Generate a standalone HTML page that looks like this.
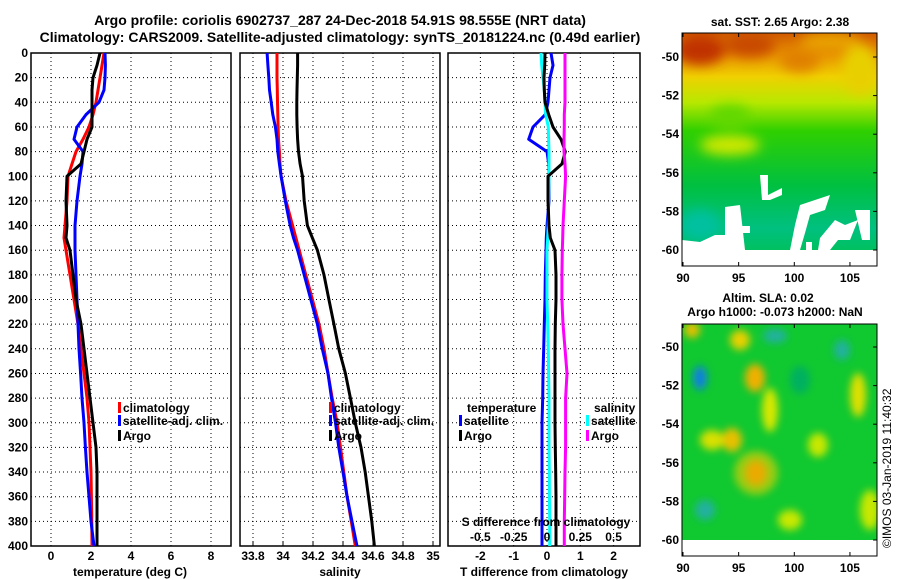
<!DOCTYPE html>
<html><head><meta charset="utf-8"><style>
body{margin:0;background:#fff;}
svg{display:block;font-family:"Liberation Sans",sans-serif;font-weight:bold;}
</style></head><body>
<svg id="chart" width="900" height="580" viewBox="0 0 900 580" xmlns="http://www.w3.org/2000/svg">
<defs>
<filter id="bl" x="-20%" y="-20%" width="140%" height="140%"><feGaussianBlur stdDeviation="6"/></filter>
<filter id="bl2" x="-20%" y="-20%" width="140%" height="140%"><feGaussianBlur stdDeviation="4"/></filter>
<clipPath id="m1c"><rect x="682" y="33" width="195" height="217"/></clipPath>
<clipPath id="m2c"><rect x="682" y="324" width="195" height="216"/></clipPath>
<linearGradient id="sst" x1="0" y1="0" x2="0" y2="1">
<stop offset="0" stop-color="#d05a00"/><stop offset="0.1" stop-color="#e89000"/><stop offset="0.2" stop-color="#f0d000"/><stop offset="0.32" stop-color="#b8e800"/><stop offset="0.45" stop-color="#30d000"/><stop offset="0.7" stop-color="#00c040"/><stop offset="0.9" stop-color="#00c080"/><stop offset="1" stop-color="#00c060"/>
</linearGradient>
</defs>
<text x="340" y="25" font-size="14" text-anchor="middle">Argo profile: coriolis 6902737_287 24-Dec-2018 54.91S 98.555E (NRT data)</text>
<text x="340" y="42" font-size="14" text-anchor="middle">Climatology: CARS2009. Satellite-adjusted climatology: synTS_20181224.nc (0.49d earlier)</text>
<g id="p1"></g>
<g id="p2"></g>
<g id="p3"></g>

<g>
<g clip-path="url(#m1c)">
<rect x="682" y="33" width="195" height="217" fill="url(#sst)"/>
<g filter="url(#bl)">
<ellipse cx="700" cy="50" rx="25" ry="15" fill="#c03000"/>
<ellipse cx="750" cy="45" rx="25" ry="12" fill="#c84800"/>
<ellipse cx="800" cy="60" rx="20" ry="12" fill="#e08000"/>
<ellipse cx="830" cy="42" rx="30" ry="10" fill="#e8a000"/>
<ellipse cx="860" cy="70" rx="18" ry="25" fill="#e8d000"/>
<ellipse cx="730" cy="145" rx="30" ry="10" fill="#d0e800"/>
<ellipse cx="730" cy="115" rx="20" ry="10" fill="#60d800"/>
<ellipse cx="700" cy="225" rx="20" ry="15" fill="#00c0a0"/>
</g>
<path d="M682 240 L700 242 L715 235 L725 235 L725 207 L740 205 L745 250 L682 250Z M736 226 L750 226 L750 233 L736 233Z M760 175 L768 175 L768 195 L782 188 L782 195 L770 200 L762 200Z M800 205 L815 200 L830 195 L825 210 L810 215 L805 233 L800 250 L790 250 L795 225Z M835 220 L845 225 L858 220 L850 240 L838 240 L830 250 L818 250 L820 238Z M855 210 L870 210 L870 240 L862 240Z M712 250 L877 250 L877 252 L712 252Z M806 242 L812 242 L812 250 L806 250Z" fill="#fff"/>
</g>
<rect x="682" y="250" width="195" height="16" fill="#fff"/>
<rect x="682" y="33" width="195" height="233" fill="none" stroke="#000"/>
</g>

<g>
<g clip-path="url(#m2c)">
<rect x="682" y="324" width="195" height="216" fill="#10c830"/>
<g filter="url(#bl2)">
<ellipse cx="700" cy="378" rx="7" ry="12" fill="#1080e0"/>
<ellipse cx="756" cy="473" rx="11" ry="13" fill="#e07000"/>
<ellipse cx="756" cy="473" rx="22" ry="22" fill="#f0d000" opacity="0.6"/>
<ellipse cx="755" cy="378" rx="10" ry="14" fill="#f0b000"/>
<ellipse cx="770" cy="410" rx="8" ry="22" fill="#d8e800"/>
<ellipse cx="740" cy="340" rx="10" ry="10" fill="#e8d000"/>
<ellipse cx="692" cy="330" rx="8" ry="8" fill="#e8c000"/>
<ellipse cx="732" cy="440" rx="10" ry="12" fill="#e8c000"/>
<ellipse cx="712" cy="440" rx="12" ry="10" fill="#d8e000"/>
<ellipse cx="858" cy="395" rx="8" ry="22" fill="#e0e000"/>
<ellipse cx="775" cy="336" rx="12" ry="7" fill="#20b0a0"/>
<ellipse cx="842" cy="350" rx="8" ry="10" fill="#20b0a0"/>
<ellipse cx="705" cy="510" rx="10" ry="10" fill="#20b0a0"/>
<ellipse cx="790" cy="520" rx="12" ry="10" fill="#c8e800"/>
<ellipse cx="818" cy="445" rx="10" ry="12" fill="#c8e800"/>
<ellipse cx="800" cy="380" rx="10" ry="14" fill="#00b060"/>
<ellipse cx="870" cy="510" rx="10" ry="20" fill="#c8e800"/>
</g>
</g>
<rect x="682" y="540" width="195" height="16" fill="#fff"/>
<rect x="682" y="324" width="195" height="232" fill="none" stroke="#000"/>
</g>
<text x="780" y="26" font-size="12" text-anchor="middle">sat. SST: 2.65 Argo: 2.38</text>
<text x="768" y="302" font-size="12" text-anchor="middle">Altim. SLA: 0.02</text>
<text x="775" y="316" font-size="12" text-anchor="middle">Argo h1000: -0.073 h2000: NaN</text>
<text font-size="12" font-weight="normal" transform="translate(891,548) rotate(-90)">©IMOS 03-Jan-2019 11:40:32</text>
<g id="maxes"></g>
</svg>
<script>
// ---------- data ----------
const depths = [0,10,20,30,40,50,60,70,80,90,100,120,140,150,160,180,200,220,240,260,280,300,320,340,360,380,400];
const tClim = [2.65,2.55,2.45,2.35,2.25,2.1,1.9,1.6,1.25,1.05,0.85,0.8,0.7,0.65,0.75,0.95,1.15,1.35,1.5,1.65,1.8,1.9,1.95,2.0,2.02,2.04,2.05];
const tSat  = [2.7,2.72,2.7,2.65,2.4,1.75,1.3,1.15,1.6,1.55,1.45,1.3,1.2,1.2,1.2,1.25,1.3,1.35,1.4,1.48,1.55,1.65,1.72,1.8,1.9,2.0,2.15];
const tArgo = [2.45,2.3,2.1,2.05,2.05,2.05,2.05,1.8,1.65,1.5,0.8,0.75,0.8,0.75,0.95,1.1,1.25,1.5,1.65,1.8,1.95,2.1,2.25,2.3,2.3,2.3,2.3];
const sClim = [33.96,33.96,33.96,33.962,33.963,33.965,33.967,33.97,33.976,33.98,33.987,34.02,34.064,34.086,34.108,34.152,34.196,34.24,34.273,34.3,34.328,34.361,34.383,34.405,34.427,34.455,34.482];
const sSat  = [33.894,33.899,33.905,33.91,33.921,33.932,33.949,33.96,33.965,33.976,33.987,34.015,34.048,34.07,34.097,34.141,34.185,34.229,34.262,34.3,34.323,34.35,34.372,34.4,34.427,34.46,34.493];
const sArgo = [34.097,34.097,34.095,34.093,34.092,34.092,34.094,34.097,34.103,34.114,34.13,34.141,34.163,34.196,34.229,34.273,34.306,34.339,34.372,34.416,34.449,34.482,34.52,34.548,34.57,34.592,34.609];
const dTsat = [0.12,0.18,0.09,0.06,0.03,-0.05,-0.42,-0.55,0.0,0.05,0.06,0.06,0.0,-0.02,-0.03,-0.05,-0.06,-0.08,-0.1,-0.12,-0.13,-0.15,-0.15,-0.15,-0.15,-0.15,-0.15];
const dSsat = [-0.045,-0.04,-0.03,-0.02,-0.015,-0.01,0.01,0.012,0.015,0.015,0.015,0.012,0.01,0.005,0.0,0.0,0.0,0.005,0.01,0.012,0.015,0.015,0.015,0.017,0.018,0.02,0.02];
const dTargo = [-0.06,-0.07,-0.09,-0.08,-0.06,0.05,0.18,0.42,0.55,0.45,0.03,0.03,0.06,0.1,0.24,0.27,0.27,0.25,0.24,0.24,0.24,0.24,0.25,0.26,0.27,0.27,0.27];
const dSargo = [0.135,0.135,0.135,0.135,0.135,0.13,0.13,0.128,0.128,0.135,0.14,0.13,0.12,0.118,0.115,0.112,0.112,0.12,0.135,0.15,0.14,0.14,0.14,0.135,0.133,0.13,0.13];
const tTicks = [0,2,4,6,8];
const sTicks = [33.8,34,34.2,34.4,34.6,34.8,35];
const dTTicks = [-2,-1,0,1,2];
const dSTicks = [-0.5,-0.25,0,0.25,0.5];
const depthTicks = [0,20,40,60,80,100,120,140,160,180,200,220,240,260,280,300,320,340,360,380,400];
const lonTicks = [90,95,100,105];
const latTicks = [-50,-52,-54,-56,-58,-60];

// ---------- helpers ----------
const NS="http://www.w3.org/2000/svg";
function mk(tag,attrs,parent){const e=document.createElementNS(NS,tag);for(const k in attrs)e.setAttribute(k,attrs[k]);parent.appendChild(e);return e;}
const Y0=53,Y1=546;
const yD=d=>Y0+(Y1-Y0)*d/400;
const xT=t=>51+20*t;
const xS=s=>253+150*(s-33.8);
const xDT=t=>547+33.3*t;
const xDS=s=>547+133.2*s;

function frame(g,x0,x1,xs,xticks,fx,labels){
  xticks.forEach(v=>{const x=fx(v);if(x>x0+1&&x<x1-1){const l=mk('line',{x1:x,x2:x,y1:Y0,y2:Y1,stroke:'#000','stroke-dasharray':'1 3'},g);}});
  depthTicks.forEach(d=>{if(d>0&&d<400){const l=mk('line',{x1:x0,x2:x1,y1:yD(d),y2:yD(d),stroke:'#000','stroke-dasharray':'1 3'},g);}});
  const r=mk('rect',{x:x0,y:Y0,width:x1-x0,height:Y1-Y0,fill:'none',stroke:'#000','stroke-width':1.5},g);
  
  if(labels){xticks.forEach((v,i)=>{const t=mk('text',{x:fx(v),y:560,'font-size':12,'text-anchor':'middle'},g);t.textContent=labels[i];});}
}
function line(g,xs,fx,color,name){
  const pts=depths.map((d,i)=>fx(xs[i]).toFixed(1)+','+yD(d).toFixed(1)).join(' ');
  const p=mk('polyline',{points:pts,fill:'none',stroke:color,'stroke-width':3,'stroke-linejoin':'round'},g);
  
}
function txt(g,x,y,s,name,anchor,size){const t=mk('text',{x:x,y:y,'font-size':size||12,'text-anchor':anchor||'start'},g);t.textContent=s;return t;}
function leg(g,x,y,color,label){const r=mk('rect',{x:x,y:y-10,width:3,height:11,fill:color},g);txt(g,x+5,y,label,'legend-entry');}

// ---------- panel 1 ----------
const p1=document.getElementById('p1');
frame(p1,31,231,null,tTicks,xT,tTicks.map(String));
depthTicks.forEach(d=>txt(p1,28,yD(d)+4,String(d),'y-tick-label','end'));
line(p1,tClim,xT,'#ff0000','climatology-temp-line');
line(p1,tSat,xT,'#0000ff','satellite-temp-line');
line(p1,tArgo,xT,'#000000','argo-temp-line');
txt(p1,130,576,'temperature (deg C)','x-axis-title','middle');
leg(p1,118,412,'#ff0000','climatology');
leg(p1,118,425,'#0000ff','satellite-adj. clim.');
leg(p1,118,440,'#000000','Argo');

// ---------- panel 2 ----------
const p2=document.getElementById('p2');
frame(p2,240,440,null,sTicks,xS,null);
sTicks.forEach(v=>{const x=xS(v);txt(p2,x,560,String(v),'x-tick-label','middle');
  const tk=mk('line',{x1:x,x2:x,y1:Y1,y2:Y1-4,stroke:'#000'},p2);});
line(p2,sClim,xS,'#ff0000','climatology-salinity-line');
line(p2,sSat,xS,'#0000ff','satellite-salinity-line');
line(p2,sArgo,xS,'#000000','argo-salinity-line');
txt(p2,340,576,'salinity','x-axis-title','middle');
leg(p2,329,412,'#ff0000','climatology');
leg(p2,329,425,'#0000ff','satellite-adj. clim.');
leg(p2,329,440,'#000000','Argo');

// ---------- panel 3 ----------
const p3=document.getElementById('p3');
frame(p3,448,640,null,dTTicks,xDT,dTTicks.map(String));
line(p3,dTsat,xDT,'#0000ff','temp-diff-satellite-line');
line(p3,dSsat,xDS,'#00ffff','sal-diff-satellite-line');
line(p3,dTargo,xDT,'#000000','temp-diff-argo-line');
line(p3,dSargo,xDS,'#ff00ff','sal-diff-argo-line');
txt(p3,546,526,'S difference from climatology','s-axis-title','middle');
dSTicks.forEach(v=>txt(p3,xDS(v),541,String(v),'s-tick-label','middle'));
txt(p3,544,576,'T difference from climatology','x-axis-title','middle');
txt(p3,467,412,'temperature','legend-title');
leg(p3,459,425,'#0000ff','satellite');
leg(p3,459,440,'#000000','Argo');
txt(p3,594,412,'salinity','legend-title');
leg(p3,586,425,'#00ffff','satellite');
leg(p3,586,440,'#ff00ff','Argo');

// ---------- map axes ----------
const ma=document.getElementById('maxes');
function mapAxes(top,lat50,lat60,bottom,labY){
  const lx=v=>683+(v-90)*11.13;
  const ly=v=>lat50+(lat60-lat50)*(-50-v)/10;
  lonTicks.forEach(v=>{mk('line',{x1:lx(v),x2:lx(v),y1:bottom,y2:bottom-4,stroke:'#000'},ma);mk('line',{x1:lx(v),x2:lx(v),y1:top,y2:top+4,stroke:'#000'},ma);txt(ma,lx(v),labY,String(v),'lon-tick-label','middle');});
  latTicks.forEach(v=>{mk('line',{x1:877,x2:873,y1:ly(v),y2:ly(v),stroke:'#000'},ma);txt(ma,679,ly(v)+4,String(v),'lat-tick-label','end');});
}
mapAxes(33,57,250,266,282);
mapAxes(324,347,540,556,572);
</script>
</body></html>
